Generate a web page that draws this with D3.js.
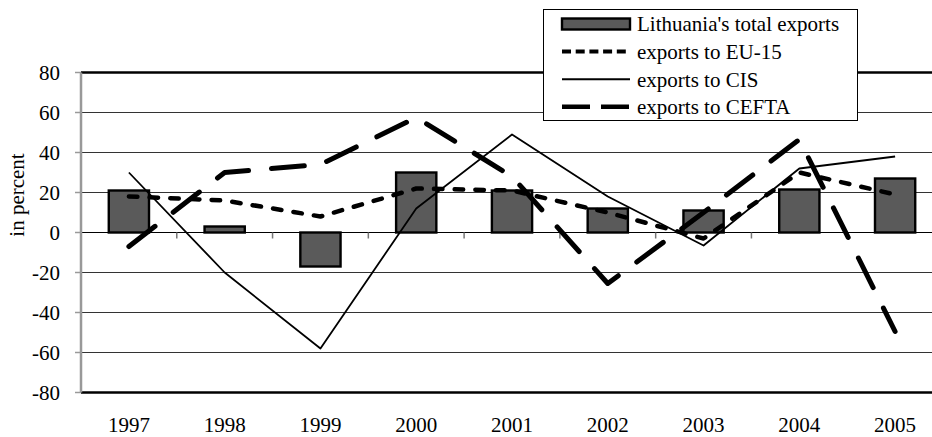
<!DOCTYPE html>
<html>
<head>
<meta charset="utf-8">
<script src="https://cdn.jsdelivr.net/npm/d3@7"></script>
<style>
  body { margin: 0; background: #fff; }
</style>
</head>
<body>
<div id="chart"></div>
<script>
// growth of exports, % change on previous year
const years = ["1997", "1998", "1999", "2000", "2001", "2002", "2003", "2004", "2005"];
const totalExports = [21, 3, -17, 30, 21, 12, 11, 21.5, 27];
const euExports = [18, 16, 8, 22, 21, 10, -3, 30, 19];
const cisExports = [30, -20, -58, 12, 49, 18, -6.5, 32, 38];
const ceftaExports = [-7, 30, 34, 57.5, 28, -25.5, 10, 46.5, -49.5];
const yTicks = [-80, -60, -40, -20, 0, 20, 40, 60, 80];

const legendItems = [
  { name: "Lithuania's total exports", type: "bar" },
  { name: "exports to EU-15", type: "line", width: 4, dash: "9,4.7" },
  { name: "exports to CIS", type: "line", width: 2, dash: null },
  { name: "exports to CEFTA", type: "line", width: 4.5, dash: "28,11" }
];

const width = 932, height = 437;
const margin = { top: 72.5, right: -11, bottom: 44.5, left: 81 };
const serif = "'Liberation Serif', 'Times New Roman', Times, 'DejaVu Serif', serif";

const svg = d3.select("#chart")
  .append("svg")
  .attr("width", width)
  .attr("height", height)
  .attr("font-family", serif)
  .style("font-family", serif);

const x = d3.scaleBand()
  .domain(years)
  .range([margin.left, width - margin.right])
  .padding(0);

const y = d3.scaleLinear()
  .domain([-80, 80])
  .range([height - margin.bottom, margin.top]);

const cx = d => x(d) + x.bandwidth() / 2;
const barW = x.bandwidth() * 0.42;

// gridlines
svg.append("g")
  .selectAll("line")
  .data(yTicks)
  .enter()
  .append("line")
  .attr("x1", margin.left)
  .attr("x2", width)
  .attr("y1", d => y(d))
  .attr("y2", d => y(d))
  .attr("stroke", d => Math.abs(d) === 80 || d === 0 ? "#000" : "#333")
  .attr("stroke-width", d => Math.abs(d) === 80 ? 2.6 : 1.1);

// bars
svg.append("g")
  .selectAll("rect")
  .data(years)
  .enter()
  .append("rect")
  .attr("x", d => cx(d) - barW / 2)
  .attr("width", barW)
  .attr("y", (d, i) => y(Math.max(0, totalExports[i])))
  .attr("height", (d, i) => Math.abs(y(totalExports[i]) - y(0)))
  .attr("fill", "#5a5a5a")
  .attr("stroke", "#000")
  .attr("stroke-width", 2.4);

// x axis on the zero line, ticks between categories
const xAxis = svg.append("g")
  .attr("transform", `translate(0,${y(0)})`);
xAxis.selectAll("line")
  .data(years.slice(1))
  .enter()
  .append("line")
  .attr("x1", d => x(d))
  .attr("x2", d => x(d))
  .attr("y1", 0)
  .attr("y2", 6)
  .attr("stroke", "#777")
  .attr("stroke-width", 1.5);

// lines
const line = vals => d3.line()
  .x((v, i) => cx(years[i]))
  .y(v => y(v))(vals);

const series = [
  { vals: cisExports, w: 1.8, dash: null, cap: "butt" },
  { vals: euExports, w: 4.5, dash: "8.5,12.2", cap: "round" },
  { vals: ceftaExports, w: 5, dash: "33,23", cap: "round" }
];

svg.append("g")
  .attr("fill", "none")
  .selectAll("path")
  .data(series)
  .enter()
  .append("path")
  .attr("d", d => line(d.vals))
  .attr("stroke", "#000")
  .attr("stroke-width", d => d.w)
  .attr("stroke-dasharray", d => d.dash)
  .attr("stroke-linecap", d => d.cap)
  .attr("stroke-linejoin", "round");

// y axis
const yAxis = svg.append("g");
yAxis.append("line")
  .attr("x1", margin.left)
  .attr("x2", margin.left)
  .attr("y1", y(80))
  .attr("y2", y(-80))
  .attr("stroke", "#999")
  .attr("stroke-width", 2.5);
yAxis.selectAll("line.tick")
  .data(yTicks)
  .enter()
  .append("line")
  .attr("class", "tick")
  .attr("x1", margin.left - 6)
  .attr("x2", margin.left)
  .attr("y1", d => y(d))
  .attr("y2", d => y(d))
  .attr("stroke", "#999")
  .attr("stroke-width", 1.5);
yAxis.selectAll("text")
  .data(yTicks)
  .enter()
  .append("text")
  .attr("x", 60)
  .attr("y", d => y(d))
  .attr("dy", "0.35em")
  .attr("text-anchor", "end")
  .attr("font-size", 21)
  .text(d => d);

svg.append("text")
  .attr("transform", "translate(24,195) rotate(-90)")
  .attr("text-anchor", "middle")
  .attr("font-size", 21)
  .text("in percent");

// year labels
svg.append("g")
  .selectAll("text")
  .data(years)
  .enter()
  .append("text")
  .attr("x", d => cx(d))
  .attr("y", 432)
  .attr("text-anchor", "middle")
  .attr("font-size", 21)
  .text(d => d);

// legend
const legend = svg.append("g");
legend.append("rect")
  .attr("x", 543.5)
  .attr("y", 9.5)
  .attr("width", 314)
  .attr("height", 111)
  .attr("fill", "#fff")
  .attr("stroke", "#000")
  .attr("stroke-width", 1);

const row = legend.selectAll("g.item")
  .data(legendItems)
  .enter()
  .append("g")
  .attr("class", "item")
  .attr("transform", (d, i) => `translate(562,${24 + i * 27.6})`);

row.filter(d => d.type === "bar")
  .append("rect")
  .attr("x", 0)
  .attr("y", -5.5)
  .attr("width", 68)
  .attr("height", 11)
  .attr("fill", "#5a5a5a")
  .attr("stroke", "#000")
  .attr("stroke-width", 2.4);

row.filter(d => d.type === "line")
  .append("line")
  .attr("x1", 0)
  .attr("x2", 68)
  .attr("stroke", "#000")
  .attr("stroke-width", d => d.width)
  .attr("stroke-dasharray", d => d.dash);

row.append("text")
  .attr("x", 75)
  .attr("dy", "0.35em")
  .attr("font-size", 21)
  .text(d => d.name);
</script>
</body>
</html>
